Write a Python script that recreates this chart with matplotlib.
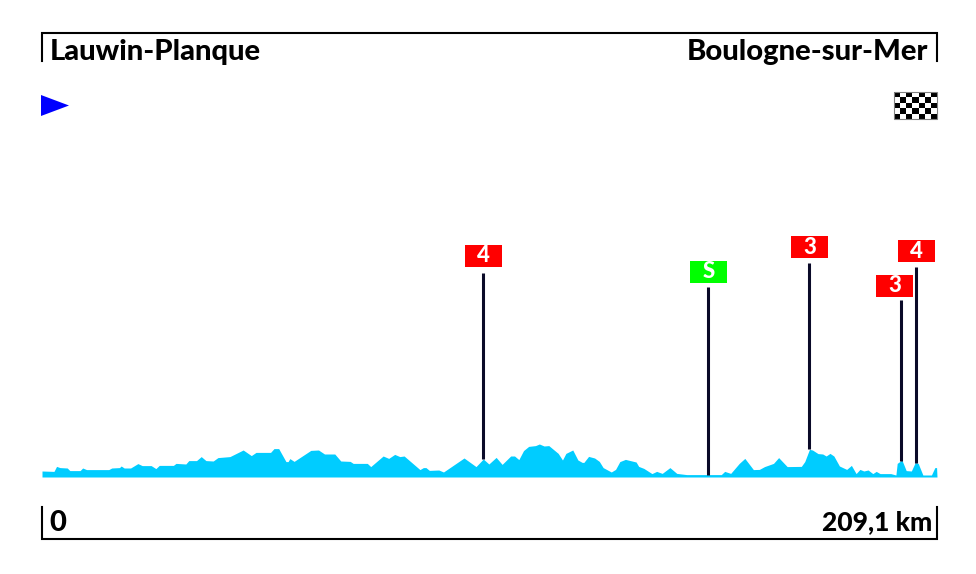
#!/usr/bin/env python3
"""Stage profile: Lauwin-Planque to Boulogne-sur-Mer."""

import matplotlib

matplotlib.use("Agg")
import matplotlib.pyplot as plt
import numpy as np
from matplotlib.lines import Line2D
from matplotlib.patches import Polygon, Rectangle

W, H = 976, 574
LEFT, RIGHT, BASE, TOP = 42, 937, 477, 120

start_name = "Lauwin-Planque"
finish_name = "Boulogne-sur-Mer"
start_label = "0"
finish_label = "209,1 km"

profile_km = [
    0, 2.8, 3.4, 4.2, 5.9, 6.5, 8.9, 9.5, 10.4, 15.6, 16.3, 18.1, 18.5, 19.2,
    20.7, 22.4, 23.4, 25.5, 26.6, 27.4, 30.7, 31.3, 33.6, 34.3, 36.1, 37.2,
    38.3, 40.0, 41.1, 43.9, 47.0, 48.9, 50.0, 53.4, 54.2, 55.3, 57.0, 57.5,
    57.9, 58.9, 62.8, 64.6, 66.0, 68.4, 69.8, 72.0, 72.7, 76.0, 76.8, 79.7,
    81.0, 82.4, 83.6, 84.6, 88.3, 89.1, 89.7, 90.5, 92.7, 93.8, 98.6, 101.4,
    103.1, 104.4, 106.1, 107.5, 109.5, 110.4, 111.4, 112.5, 113.7, 115.3,
    116.2, 117.3, 118.4, 120.6, 121.6, 122.4, 124.0, 125.2, 126.2, 126.6,
    127.7, 129.1, 130.2, 131.1, 133.0, 134.0, 135.0, 136.3, 138.8, 139.4,
    140.6, 142.5, 143.6, 144.9, 146.7, 148.3, 150.6, 158.7, 159.5, 160.9,
    162.9, 164.2, 166.2, 167.6, 168.8, 170.9, 172.1, 174.1, 177.4, 178.2,
    179.3, 180.0, 181.3, 182.4, 183.2, 184.1, 185.0, 186.3, 188.0, 189.1,
    190.2, 191.1, 192.0, 193.0, 194.1, 194.9, 195.8, 198.3, 199.5, 199.8,
    200.9, 201.9, 203.1, 204.0, 204.7, 205.8, 207.8, 208.6, 209.0, 209.1,
]
profile_alt = [
    30, 28, 53, 47, 45, 32, 32, 45, 37, 37, 45, 47, 55, 45,
    45, 67, 57, 57, 42, 58, 58, 68, 65, 82, 82, 102,
    82, 80, 97, 102, 135, 107, 123, 123, 142, 142, 77, 77,
    92, 78, 133, 135, 115, 115, 80, 78, 68, 68, 52, 105,
    93, 113, 102, 105, 37, 47, 47, 33, 35, 25, 95, 52,
    90, 65, 98, 63, 105, 105, 87, 132, 153, 157,
    165, 155, 157, 118, 85, 118, 135, 85, 73, 73,
    103, 95, 78, 47, 25, 38, 77, 88, 75, 53,
    43, 17, 28, 18, 47, 18, 12, 12, 28, 18,
    68, 93, 37, 38, 52, 68, 97, 52, 53, 77,
    138, 135, 117, 115, 105, 118, 105, 55, 38, 58,
    17, 38, 30, 35, 17, 28, 17, 17, 10, 68,
    85, 32, 30, 72, 68, 10, 10, 47, 47, 0,
]

climb_km = [103.0, 155.6, 179.3, 200.7, 204.2]
climb_cat = ["4", "S", "3", "3", "4"]
stem_top_px = [273, 287, 263, 300, 267]
box_center_px = [483.5, 708.5, 809.5, 894.5, 916.5]
box_top_px = [245, 261, 236, 275, 240]

FILL = "#00ccff"
STEM = "#0a0a28"
FONT = "Lato"

fig = plt.figure(figsize=(W / 100, H / 100), dpi=100)
ax = fig.add_axes([LEFT / W, 1 - BASE / H, (RIGHT - LEFT) / W, (BASE - TOP) / H])
ax.fill_between(profile_km, profile_alt, 0, color=FILL, lw=0)
ax.set_xlim(0, 209.1)
ax.set_ylim(0, (BASE - TOP) * 5)
ax.axis("off")

# everything else is placed in image pixels
ov = fig.add_axes([0, 0, 1, 1], facecolor="none")
ov.axis("off")

frame = dict(color="black", lw=1.5, solid_joinstyle="miter")
ov.add_line(Line2D([42, 42, 937, 937], [61, 33, 33, 61], **frame))
ov.add_line(Line2D([42, 42, 937, 937], [507, 539, 539, 507], **frame))

text = dict(family=FONT, weight="black", color="black", va="center")
ov.text(50, 52, start_name, ha="left", fontsize=21, **text)
ov.text(928, 52, finish_name, ha="right", fontsize=21, **text)
ov.text(49, 523, start_label, ha="left", fontsize=21, **text)
ov.text(932, 522, finish_label, ha="right", fontsize=19, **text)

ov.add_patch(Polygon([(41, 95), (41, 116), (69, 105.5)], color="#0000ff", lw=0))

checker = np.indices((5, 7)).sum(axis=0) % 2
ov.imshow(checker, cmap="gray", extent=(894, 937, 119, 92), aspect="auto",
          interpolation="nearest", zorder=2)
ov.add_patch(Rectangle((894, 92), 43, 27, fill=False, ec="#808080", lw=0.8,
                       zorder=3))
ov.set_xlim(0, W)
ov.set_ylim(H, 0)

for km, cat, top, cx, by in zip(climb_km, climb_cat, stem_top_px,
                                box_center_px, box_top_px):
    stem_x = LEFT + km / 209.1 * (RIGHT - LEFT)
    bottom = BASE - np.interp(km, profile_km, profile_alt) / 5
    ov.add_line(Line2D([stem_x, stem_x], [top, bottom], color=STEM, lw=2.2,
                       solid_capstyle="butt"))
    col = "#00ff00" if cat == "S" else "#ff0000"
    ov.add_patch(Rectangle((cx - 18.5, by), 37, 21.5, color=col, lw=0))
    ov.text(cx, by + 11, cat, color="white", family=FONT, weight="black",
            fontsize=16, ha="center", va="center")

fig.savefig("out.png", dpi=100)
